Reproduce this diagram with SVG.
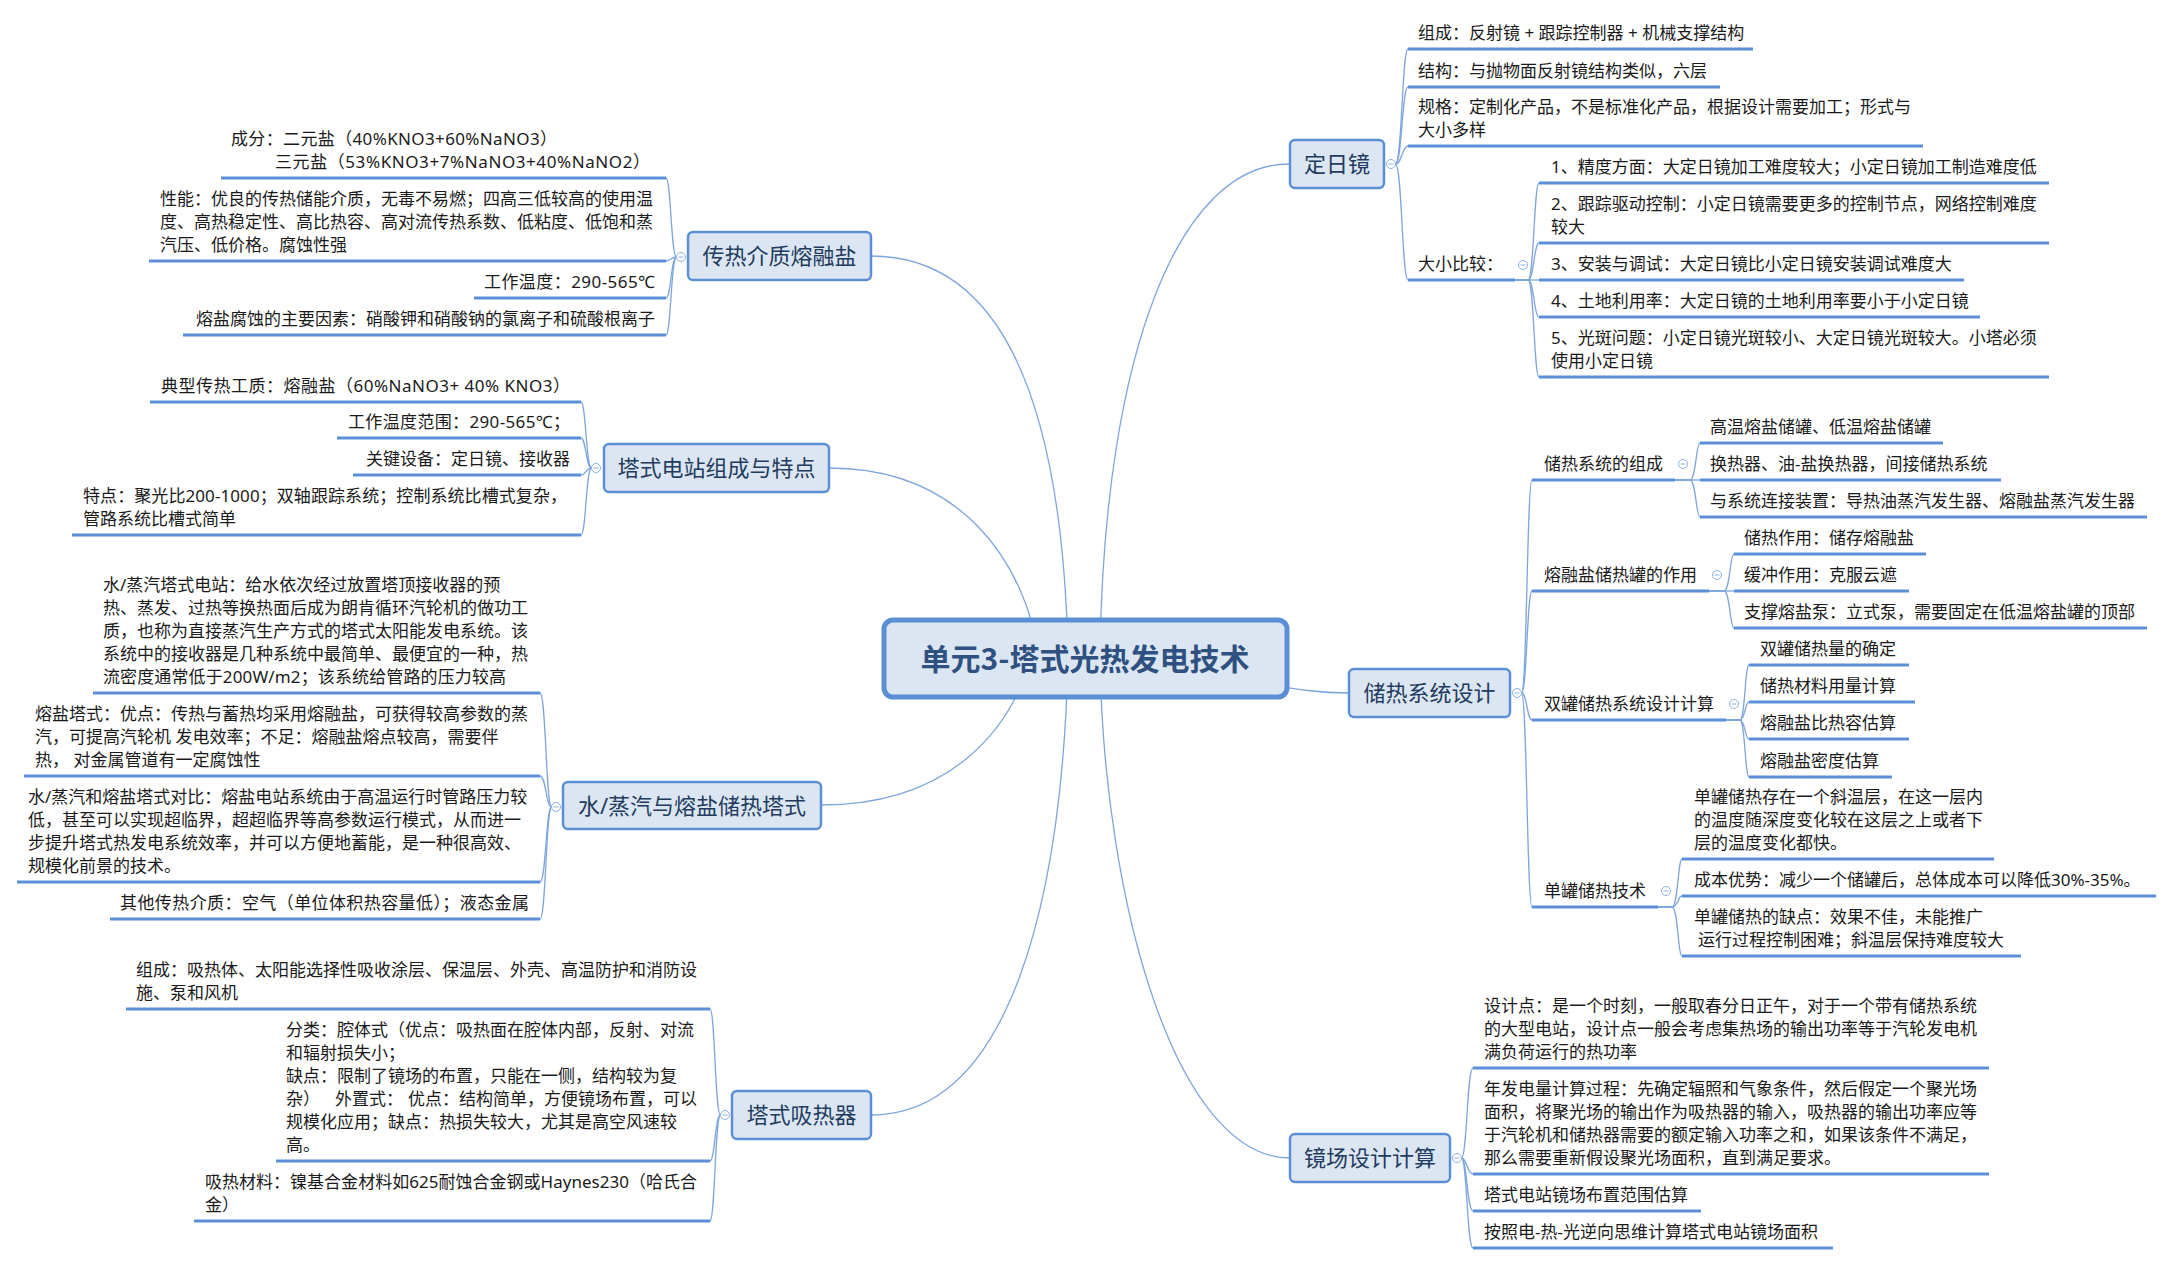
<svg xmlns="http://www.w3.org/2000/svg" width="2174" height="1265" viewBox="0 0 2174 1265">
<style>
.t{font-family:"Noto Sans","Noto Sans CJK SC",sans-serif;font-size:17px;fill:#1a1a1a}
.e{text-anchor:end}
.ul{stroke:#5b8fd8;stroke-width:3;fill:none}
.ln{stroke:#7ea6dc;stroke-width:1.3;fill:none}
.box{fill:#dce6f2;stroke:#5b8fd5;stroke-width:2.5}
.bt{font-family:"Noto Sans","Noto Sans CJK SC",sans-serif;font-size:22px;fill:#223b5e;text-anchor:middle}
.cb circle{fill:#fff;stroke:#8cb0e2;stroke-width:1}
.cb path{stroke:#8cb0e2;stroke-width:1;fill:none}
</style>
<rect width="2174" height="1265" fill="#fff"/>
<g id="connectors">
<path class="ln" d="M1100 650 C1105 350 1180 164 1289 164"/>
<path class="ln" d="M1068 650 C1062 420 1010 256 871 256"/>
<path class="ln" d="M1040 660 C1025 560 960 468 829 468"/>
<path class="ln" d="M1030 660 C1010 730 950 805 821 805"/>
<path class="ln" d="M1068 660 C1062 900 1010 1115 871 1115"/>
<path class="ln" d="M1100 660 C1104 900 1175 1158 1290 1158"/>
<path class="ln" d="M1250 682 C1300 690 1320 693 1349 693"/>
<!-- 定日镜 -->
<path class="ln" d="M1395.5 164 C1402 164 1402 49 1408 49"/>
<path class="ln" d="M1395.5 164 C1402 164 1402 87 1408 87"/>
<path class="ln" d="M1395.5 164 C1402 164 1402 146 1408 146"/>
<path class="ln" d="M1395.5 164 C1402 164 1402 280 1408 280"/>
<path class="ln" d="M1515 280 L1528 280 C1534 280 1534 183 1539 183"/>
<path class="ln" d="M1515 280 L1528 280 C1534 280 1534 243 1539 243"/>
<path class="ln" d="M1515 280 L1539 280"/>
<path class="ln" d="M1515 280 L1528 280 C1534 280 1534 317 1539 317"/>
<path class="ln" d="M1515 280 L1528 280 C1534 280 1534 377 1539 377"/>
<!-- 储热系统设计 -->
<path class="ln" d="M1521.5 693 C1527 693 1527 480 1532 480"/>
<path class="ln" d="M1521.5 693 C1527 693 1527 591 1532 591"/>
<path class="ln" d="M1521.5 693 C1527 693 1527 720 1532 720"/>
<path class="ln" d="M1521.5 693 C1527 693 1527 907 1532 907"/>
<path class="ln" d="M1675 480 L1690 480 C1696 480 1696 443 1700 443"/>
<path class="ln" d="M1675 480 L1700 480"/>
<path class="ln" d="M1675 480 L1690 480 C1696 480 1696 517 1700 517"/>
<path class="ln" d="M1709 591 L1724 591 C1730 591 1730 554 1734 554"/>
<path class="ln" d="M1709 591 L1734 591"/>
<path class="ln" d="M1709 591 L1724 591 C1730 591 1730 628 1734 628"/>
<path class="ln" d="M1726 720 L1740 720 C1745 720 1745 665 1749 665"/>
<path class="ln" d="M1726 720 L1740 720 C1745 720 1745 702 1749 702"/>
<path class="ln" d="M1726 720 L1740 720 C1745 720 1745 739 1749 739"/>
<path class="ln" d="M1726 720 L1740 720 C1745 720 1745 777 1749 777"/>
<path class="ln" d="M1658 907 L1672 907 C1678 907 1678 859 1682 859"/>
<path class="ln" d="M1658 907 L1672 907 C1678 907 1678 896 1682 896"/>
<path class="ln" d="M1658 907 L1672 907 C1678 907 1678 956 1682 956"/>
<!-- 镜场设计计算 -->
<path class="ln" d="M1461.5 1158 C1467 1158 1467 1068 1473 1068"/>
<path class="ln" d="M1461.5 1158 C1467 1158 1467 1174 1473 1174"/>
<path class="ln" d="M1461.5 1158 C1467 1158 1467 1211 1473 1211"/>
<path class="ln" d="M1461.5 1158 C1467 1158 1467 1248 1473 1248"/>
<!-- 传热介质熔融盐 -->
<path class="ln" d="M676.5 257 C671 257 671 178 666 178"/>
<path class="ln" d="M676.5 257 C671 257 671 261 666 261"/>
<path class="ln" d="M676.5 257 C671 257 671 298 666 298"/>
<path class="ln" d="M676.5 257 C671 257 671 335 666 335"/>
<!-- 塔式电站组成与特点 -->
<path class="ln" d="M591.5 468 C586 468 586 402 581 402"/>
<path class="ln" d="M591.5 468 C586 468 586 438 581 438"/>
<path class="ln" d="M591.5 468 C586 468 586 475 581 475"/>
<path class="ln" d="M591.5 468 C586 468 586 535 581 535"/>
<!-- 水/蒸汽与熔盐储热塔式 -->
<path class="ln" d="M551.5 807 C546 807 546 693 540 693"/>
<path class="ln" d="M551.5 807 C546 807 546 776 540 776"/>
<path class="ln" d="M551.5 807 C546 807 546 882 540 882"/>
<path class="ln" d="M551.5 807 C546 807 546 919 540 919"/>
<!-- 塔式吸热器 -->
<path class="ln" d="M720.5 1115 C715 1115 715 1009 710 1009"/>
<path class="ln" d="M720.5 1115 C715 1115 715 1161 710 1161"/>
<path class="ln" d="M720.5 1115 C715 1115 715 1221 710 1221"/>
</g>

<g id="center">
<rect x="884" y="620" width="403" height="77" rx="9" fill="#dce6f2" stroke="#5b8fd5" stroke-width="5"/>
<text x="1085" y="670" style="font-family:'Noto Sans CJK SC','Noto Sans',sans-serif;font-size:30px;font-weight:bold;fill:#2f5181;text-anchor:middle">单元3-塔式光热发电技术</text>
</g>

<g id="n-dingrijing">
<rect class="box" x="1290" y="140" width="94" height="48" rx="5"/>
<text class="bt" x="1337" y="172">定日镜</text>
<g class="cb"><circle cx="1391" cy="164" r="4.5"/><path d="M1388.5 164H1393.5"/></g>
</g>
<g id="n-dr-1"><text class="t" x="1418" y="39">组成：反射镜 + 跟踪控制器 + 机械支撑结构</text><path class="ul" d="M1408 49H1753"/></g>
<g id="n-dr-2"><text class="t" x="1418" y="77">结构：与抛物面反射镜结构类似，六层</text><path class="ul" d="M1408 87H1720"/></g>
<g id="n-dr-3"><text class="t" x="1418" y="113">规格：定制化产品，不是标准化产品，根据设计需要加工；形式与</text><text class="t" x="1418" y="136">大小多样</text><path class="ul" d="M1408 146H1923"/></g>
<g id="n-dr-4"><text class="t" x="1418" y="270">大小比较：</text><path class="ul" d="M1408 280H1515"/>
<g class="cb"><circle cx="1523" cy="265" r="4.5"/><path d="M1520.5 265H1525.5"/></g></g>
<g id="n-dr-4-1"><text class="t" x="1551" y="173">1、精度方面：大定日镜加工难度较大；小定日镜加工制造难度低</text><path class="ul" d="M1539 183H2049"/></g>
<g id="n-dr-4-2"><text class="t" x="1551" y="210">2、跟踪驱动控制：小定日镜需要更多的控制节点，网络控制难度</text><text class="t" x="1551" y="233">较大</text><path class="ul" d="M1539 243H2049"/></g>
<g id="n-dr-4-3"><text class="t" x="1551" y="270">3、安装与调试：大定日镜比小定日镜安装调试难度大</text><path class="ul" d="M1539 280H1964"/></g>
<g id="n-dr-4-4"><text class="t" x="1551" y="307">4、土地利用率：大定日镜的土地利用率要小于小定日镜</text><path class="ul" d="M1539 317H1980"/></g>
<g id="n-dr-4-5"><text class="t" x="1551" y="344">5、光斑问题：小定日镜光斑较小、大定日镜光斑较大。小塔必须</text><text class="t" x="1551" y="367">使用小定日镜</text><path class="ul" d="M1539 377H2049"/></g>

<g id="n-chure">
<rect class="box" x="1349" y="669" width="161" height="48" rx="5"/>
<text class="bt" x="1429.5" y="701">储热系统设计</text>
<g class="cb"><circle cx="1517" cy="693" r="4.5"/><path d="M1514.5 693H1519.5"/></g>
</g>
<g id="n-cr-1"><text class="t" x="1544" y="470">储热系统的组成</text><path class="ul" d="M1532 480H1675"/>
<g class="cb"><circle cx="1683" cy="464" r="4.5"/><path d="M1680.5 464H1685.5"/></g></g>
<g id="n-cr-1-1"><text class="t" x="1710" y="433">高温熔盐储罐、低温熔盐储罐</text><path class="ul" d="M1700 443H1943"/></g>
<g id="n-cr-1-2"><text class="t" x="1710" y="470">换热器、油-盐换热器，间接储热系统</text><path class="ul" d="M1700 480H2001"/></g>
<g id="n-cr-1-3"><text class="t" x="1710" y="507">与系统连接装置：导热油蒸汽发生器、熔融盐蒸汽发生器</text><path class="ul" d="M1700 517H2147"/></g>
<g id="n-cr-2"><text class="t" x="1544" y="581">熔融盐储热罐的作用</text><path class="ul" d="M1532 591H1709"/>
<g class="cb"><circle cx="1717" cy="575" r="4.5"/><path d="M1714.5 575H1719.5"/></g></g>
<g id="n-cr-2-1"><text class="t" x="1744" y="544">储热作用：储存熔融盐</text><path class="ul" d="M1734 554H1926"/></g>
<g id="n-cr-2-2"><text class="t" x="1744" y="581">缓冲作用：克服云遮</text><path class="ul" d="M1734 591H1909"/></g>
<g id="n-cr-2-3"><text class="t" x="1744" y="618">支撑熔盐泵：立式泵，需要固定在低温熔盐罐的顶部</text><path class="ul" d="M1734 628H2147"/></g>
<g id="n-cr-3"><text class="t" x="1544" y="710">双罐储热系统设计计算</text><path class="ul" d="M1532 720H1726"/>
<g class="cb"><circle cx="1734" cy="704" r="4.5"/><path d="M1731.5 704H1736.5"/></g></g>
<g id="n-cr-3-1"><text class="t" x="1760" y="655">双罐储热量的确定</text><path class="ul" d="M1749 665H1909"/></g>
<g id="n-cr-3-2"><text class="t" x="1760" y="692">储热材料用量计算</text><path class="ul" d="M1749 702H1915"/></g>
<g id="n-cr-3-3"><text class="t" x="1760" y="729">熔融盐比热容估算</text><path class="ul" d="M1749 739H1909"/></g>
<g id="n-cr-3-4"><text class="t" x="1760" y="767">熔融盐密度估算</text><path class="ul" d="M1749 777H1892"/></g>
<g id="n-cr-4"><text class="t" x="1544" y="897">单罐储热技术</text><path class="ul" d="M1532 907H1658"/>
<g class="cb"><circle cx="1666" cy="891" r="4.5"/><path d="M1663.5 891H1668.5"/></g></g>
<g id="n-cr-4-1"><text class="t" x="1694" y="803">单罐储热存在一个斜温层，在这一层内</text><text class="t" x="1694" y="826">的温度随深度变化较在这层之上或者下</text><text class="t" x="1694" y="849">层的温度变化都快。</text><path class="ul" d="M1682 859H1994"/></g>
<g id="n-cr-4-2"><text class="t" x="1694" y="886">成本优势：减少一个储罐后，总体成本可以降低30%-35%。</text><path class="ul" d="M1682 896H2156"/></g>
<g id="n-cr-4-3"><text class="t" x="1694" y="923">单罐储热的缺点：效果不佳，未能推广</text><text class="t" x="1698" y="946">运行过程控制困难；斜温层保持难度较大</text><path class="ul" d="M1682 956H2021"/></g>

<g id="n-jingchang">
<rect class="box" x="1290" y="1134" width="160" height="48" rx="5"/>
<text class="bt" x="1370" y="1166">镜场设计计算</text>
<g class="cb"><circle cx="1457" cy="1158" r="4.5"/><path d="M1454.5 1158H1459.5"/></g>
</g>
<g id="n-jc-1"><text class="t" x="1484" y="1012">设计点：是一个时刻，一般取春分日正午，对于一个带有储热系统</text><text class="t" x="1484" y="1035">的大型电站，设计点一般会考虑集热场的输出功率等于汽轮发电机</text><text class="t" x="1484" y="1058">满负荷运行的热功率</text><path class="ul" d="M1473 1068H1989"/></g>
<g id="n-jc-2"><text class="t" x="1484" y="1095">年发电量计算过程：先确定辐照和气象条件，然后假定一个聚光场</text><text class="t" x="1484" y="1118">面积，将聚光场的输出作为吸热器的输入，吸热器的输出功率应等</text><text class="t" x="1484" y="1141">于汽轮机和储热器需要的额定输入功率之和，如果该条件不满足，</text><text class="t" x="1484" y="1164">那么需要重新假设聚光场面积，直到满足要求。</text><path class="ul" d="M1473 1174H1989"/></g>
<g id="n-jc-3"><text class="t" x="1484" y="1201">塔式电站镜场布置范围估算</text><path class="ul" d="M1473 1211H1701"/></g>
<g id="n-jc-4"><text class="t" x="1484" y="1238">按照电-热-光逆向思维计算塔式电站镜场面积</text><path class="ul" d="M1473 1248H1833"/></g>

<g id="n-rongyan">
<rect class="box" x="688" y="232" width="183" height="48" rx="5"/>
<text class="bt" x="779.5" y="264">传热介质熔融盐</text>
<g class="cb"><circle cx="681" cy="257" r="4.5"/><path d="M678.5 257H683.5"/></g>
</g>
<g id="n-ry-1"><text class="t" x="231" y="145" textLength="326" lengthAdjust="spacing">成分：二元盐（40%KNO3+60%NaNO3）</text><text class="t" x="275" y="168" textLength="375" lengthAdjust="spacing">三元盐（53%KNO3+7%NaNO3+40%NaNO2）</text><path class="ul" d="M221 178H666"/></g>
<g id="n-ry-2"><text class="t" x="160" y="205">性能：优良的传热储能介质，无毒不易燃；四高三低较高的使用温</text><text class="t" x="160" y="228">度、高热稳定性、高比热容、高对流传热系数、低粘度、低饱和蒸</text><text class="t" x="160" y="251">汽压、低价格。腐蚀性强</text><path class="ul" d="M149 261H666"/></g>
<g id="n-ry-3"><text class="t e" x="655" y="288" textLength="171" lengthAdjust="spacing">工作温度：290-565℃</text><path class="ul" d="M474 298H666"/></g>
<g id="n-ry-4"><text class="t e" x="655" y="325">熔盐腐蚀的主要因素：硝酸钾和硝酸钠的氯离子和硫酸根离子</text><path class="ul" d="M183 335H666"/></g>

<g id="n-tashi">
<rect class="box" x="604" y="444" width="225" height="48" rx="5"/>
<text class="bt" x="716.5" y="476">塔式电站组成与特点</text>
<g class="cb"><circle cx="596" cy="468" r="4.5"/><path d="M593.5 468H598.5"/></g>
</g>
<g id="n-ts-1"><text class="t e" x="570" y="392" textLength="409" lengthAdjust="spacing">典型传热工质：熔融盐（60%NaNO3+ 40% KNO3）</text><path class="ul" d="M150 402H581"/></g>
<g id="n-ts-2"><text class="t e" x="570" y="428" textLength="222" lengthAdjust="spacing">工作温度范围：290-565℃；</text><path class="ul" d="M337 438H581"/></g>
<g id="n-ts-3"><text class="t e" x="570" y="465">关键设备：定日镜、接收器</text><path class="ul" d="M353 475H581"/></g>
<g id="n-ts-4"><text class="t" x="83" y="502" textLength="484" lengthAdjust="spacing">特点：聚光比200-1000；双轴跟踪系统；控制系统比槽式复杂，</text><text class="t" x="83" y="525">管路系统比槽式简单</text><path class="ul" d="M72 535H581"/></g>

<g id="n-shuizhengqi">
<rect class="box" x="563" y="782" width="258" height="47" rx="5"/>
<text class="bt" x="692" y="814">水/蒸汽与熔盐储热塔式</text>
<g class="cb"><circle cx="556" cy="807" r="4.5"/><path d="M553.5 807H558.5"/></g>
</g>
<g id="n-sz-1"><text class="t" x="103" y="591">水/蒸汽塔式电站：给水依次经过放置塔顶接收器的预</text><text class="t" x="103" y="614">热、蒸发、过热等换热面后成为朗肯循环汽轮机的做功工</text><text class="t" x="103" y="637">质，也称为直接蒸汽生产方式的塔式太阳能发电系统。该</text><text class="t" x="103" y="660">系统中的接收器是几种系统中最简单、最便宜的一种，热</text><text class="t" x="103" y="683" textLength="403" lengthAdjust="spacing">流密度通常低于200W/m2；该系统给管路的压力较高</text><path class="ul" d="M93 693H540"/></g>
<g id="n-sz-2"><text class="t" x="35" y="720">熔盐塔式：优点：传热与蓄热均采用熔融盐，可获得较高参数的蒸</text><text class="t" x="35" y="743">汽，可提高汽轮机 发电效率；不足：熔融盐熔点较高，需要伴</text><text class="t" x="35" y="766">热， 对金属管道有一定腐蚀性</text><path class="ul" d="M24 776H540"/></g>
<g id="n-sz-3"><text class="t" x="28" y="803">水/蒸汽和熔盐塔式对比：熔盐电站系统由于高温运行时管路压力较</text><text class="t" x="28" y="826">低，甚至可以实现超临界，超超临界等高参数运行模式，从而进一</text><text class="t" x="28" y="849">步提升塔式热发电系统效率，并可以方便地蓄能，是一种很高效、</text><text class="t" x="28" y="872">规模化前景的技术。</text><path class="ul" d="M17 882H540"/></g>
<g id="n-sz-4"><text class="t e" x="529" y="909" textLength="409" lengthAdjust="spacing">其他传热介质：空气（单位体积热容量低）；液态金属</text><path class="ul" d="M110 919H540"/></g>

<g id="n-xireqi">
<rect class="box" x="732" y="1091" width="139" height="48" rx="5"/>
<text class="bt" x="801.5" y="1123">塔式吸热器</text>
<g class="cb"><circle cx="725" cy="1115" r="4.5"/><path d="M722.5 1115H727.5"/></g>
</g>
<g id="n-xr-1"><text class="t" x="136" y="976">组成：吸热体、太阳能选择性吸收涂层、保温层、外壳、高温防护和消防设</text><text class="t" x="136" y="999">施、泵和风机</text><path class="ul" d="M126 1009H710"/></g>
<g id="n-xr-2"><text class="t" x="286" y="1036">分类：腔体式（优点：吸热面在腔体内部，反射、对流</text><text class="t" x="286" y="1059">和辐射损失小；</text><text class="t" x="286" y="1082">缺点：限制了镜场的布置，只能在一侧，结构较为复</text><text class="t" y="1105"><tspan x="286">杂）</tspan><tspan x="335">外置式：</tspan><tspan x="408">优点：结构简单，方便镜场布置，可以</tspan></text><text class="t" x="286" y="1128">规模化应用；缺点：热损失较大，尤其是高空风速较</text><text class="t" x="286" y="1151">高。</text><path class="ul" d="M276 1161H710"/></g>
<g id="n-xr-3"><text class="t" x="205" y="1188" textLength="492" lengthAdjust="spacing">吸热材料：镍基合金材料如625耐蚀合金钢或Haynes230（哈氏合</text><text class="t" x="205" y="1211">金）</text><path class="ul" d="M194 1221H710"/></g>
</svg>
